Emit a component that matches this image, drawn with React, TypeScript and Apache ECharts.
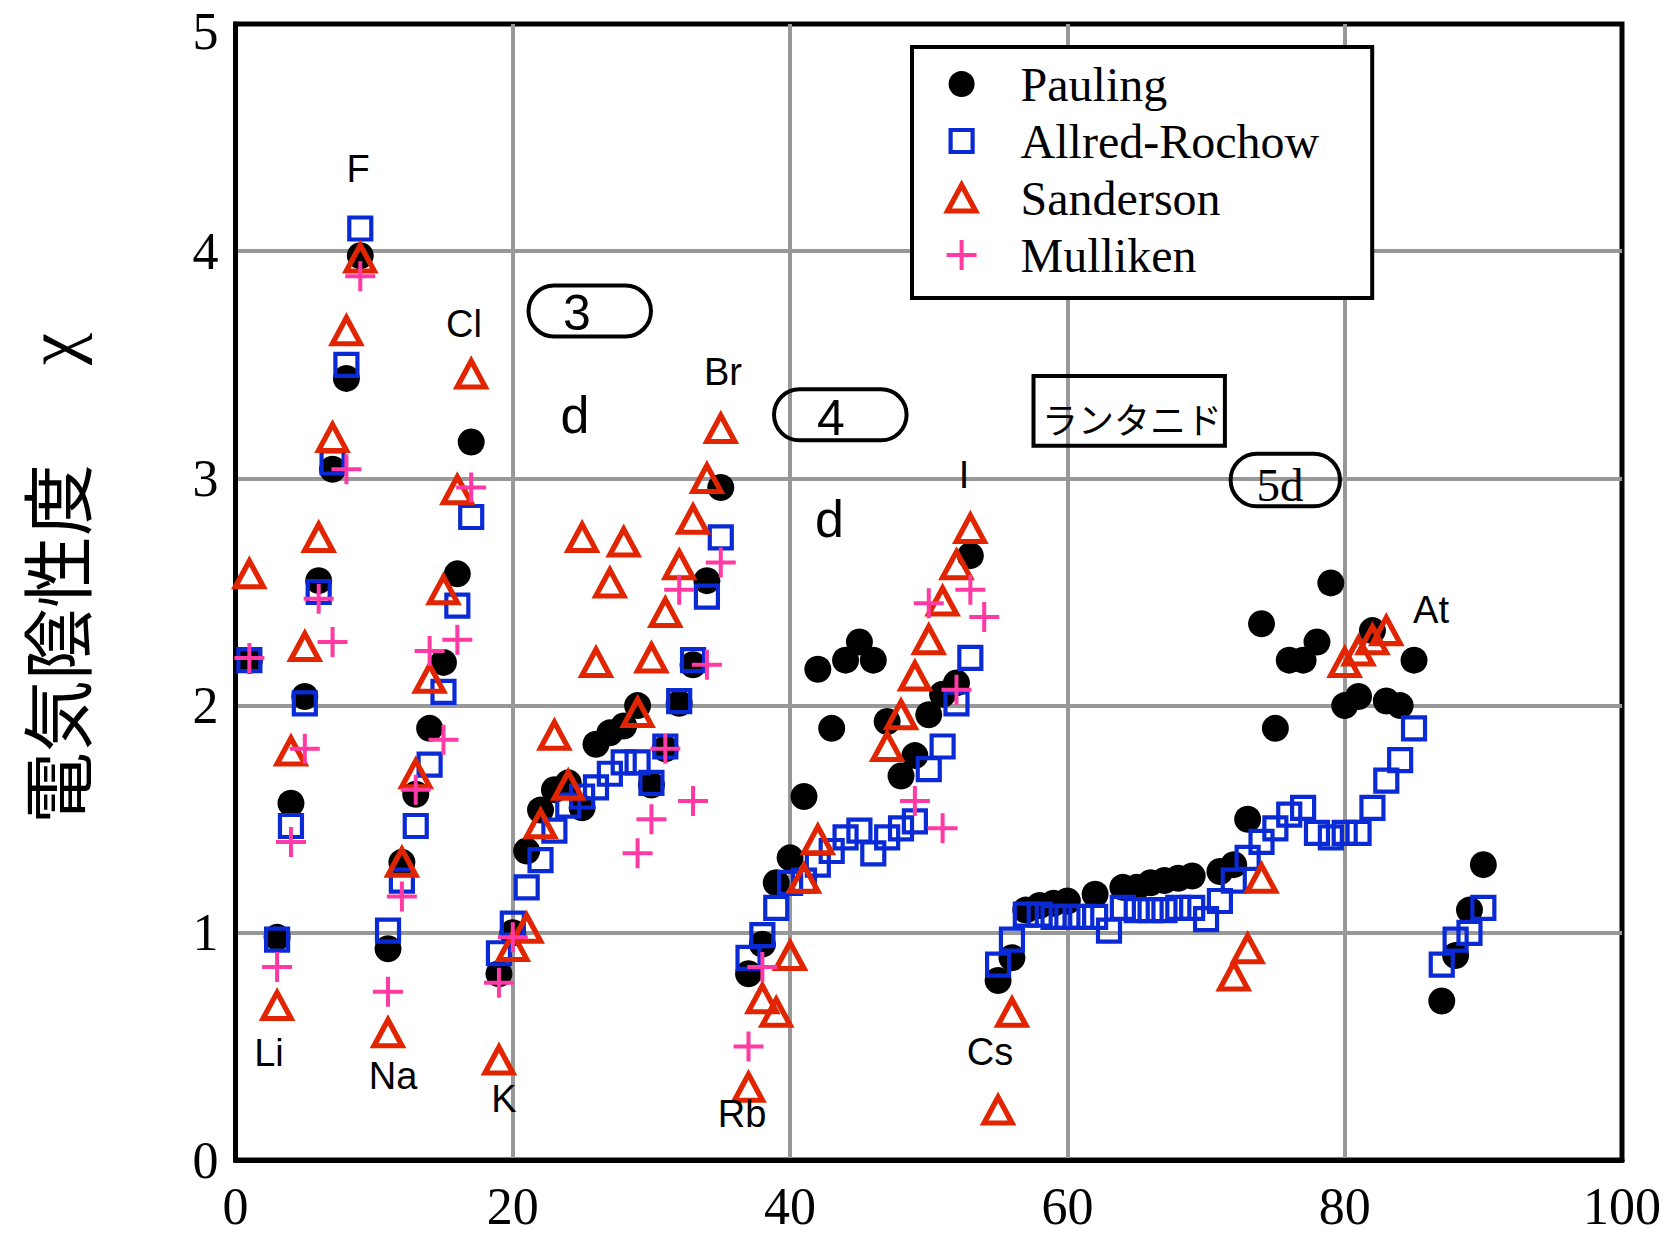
import React, { useEffect, useRef } from "react";
import * as echarts from "echarts";

// ---- data (atomic number Z, electronegativity chi) ----
const paulingZ = [1, 3, 4, 5, 6, 7, 8, 9, 11, 12, 13, 14, 15, 16, 17, 19, 20, 21, 22, 23, 24, 25, 26, 27, 28, 29, 30, 31, 32, 33, 34, 35, 37, 38, 39, 40, 41, 42, 43, 44, 45, 46, 47, 48, 49, 50, 51, 52, 53, 55, 56, 57, 58, 59, 60, 62, 64, 65, 66, 67, 68, 69, 71, 72, 73, 74, 75, 76, 77, 78, 79, 80, 81, 82, 83, 84, 85, 87, 88, 89, 90];
const paulingChi = [2.20, 0.98, 1.57, 2.04, 2.55, 3.04, 3.44, 3.98, 0.93, 1.31, 1.61, 1.90, 2.19, 2.58, 3.16, 0.82, 1.00, 1.36, 1.54, 1.63, 1.66, 1.55, 1.83, 1.88, 1.91, 2.00, 1.65, 1.81, 2.01, 2.18, 2.55, 2.96, 0.82, 0.95, 1.22, 1.33, 1.60, 2.16, 1.90, 2.20, 2.28, 2.20, 1.93, 1.69, 1.78, 1.96, 2.05, 2.10, 2.66, 0.79, 0.89, 1.10, 1.12, 1.13, 1.14, 1.17, 1.20, 1.20, 1.22, 1.23, 1.24, 1.25, 1.27, 1.30, 1.50, 2.36, 1.90, 2.20, 2.20, 2.28, 2.54, 2.00, 2.04, 2.33, 2.02, 2.00, 2.20, 0.70, 0.90, 1.10, 1.30];

const allredZ = [1, 3, 4, 5, 6, 7, 8, 9, 11, 12, 13, 14, 15, 16, 17, 19, 20, 21, 22, 23, 24, 25, 26, 27, 28, 29, 30, 31, 32, 33, 34, 35, 37, 38, 39, 40, 41, 42, 43, 44, 45, 46, 47, 48, 49, 50, 51, 52, 53, 55, 56, 57, 58, 59, 60, 61, 62, 63, 64, 65, 66, 67, 68, 69, 70, 71, 72, 73, 74, 75, 76, 77, 78, 79, 80, 81, 82, 83, 84, 85, 87, 88, 89, 90];
const allredChi = [2.20, 0.97, 1.47, 2.01, 2.50, 3.07, 3.50, 4.10, 1.01, 1.23, 1.47, 1.74, 2.06, 2.44, 2.83, 0.91, 1.04, 1.20, 1.32, 1.45, 1.56, 1.60, 1.64, 1.70, 1.75, 1.75, 1.66, 1.82, 2.02, 2.20, 2.48, 2.74, 0.89, 0.99, 1.11, 1.22, 1.23, 1.30, 1.36, 1.42, 1.45, 1.35, 1.42, 1.46, 1.49, 1.72, 1.82, 2.01, 2.21, 0.86, 0.97, 1.08, 1.08, 1.07, 1.07, 1.07, 1.07, 1.01, 1.11, 1.10, 1.10, 1.10, 1.11, 1.11, 1.06, 1.14, 1.23, 1.33, 1.40, 1.46, 1.52, 1.55, 1.44, 1.42, 1.44, 1.44, 1.55, 1.67, 1.76, 1.90, 0.86, 0.97, 1.00, 1.11];

const sandersonZ = [1, 3, 4, 5, 6, 7, 8, 9, 11, 12, 13, 14, 15, 16, 17, 19, 20, 21, 22, 23, 24, 25, 26, 27, 28, 29, 30, 31, 32, 33, 34, 35, 37, 38, 39, 40, 41, 42, 47, 48, 49, 50, 51, 52, 53, 55, 56, 72, 73, 74, 80, 81, 82, 83];
const sandersonChi = [2.58, 0.68, 1.80, 2.26, 2.74, 3.18, 3.65, 3.97, 0.56, 1.31, 1.70, 2.12, 2.51, 2.95, 3.46, 0.44, 0.94, 1.02, 1.48, 1.87, 1.65, 2.74, 2.19, 2.54, 2.72, 1.97, 2.21, 2.41, 2.62, 2.82, 3.00, 3.22, 0.32, 0.71, 0.65, 0.90, 1.24, 1.41, 1.82, 1.96, 2.13, 2.29, 2.46, 2.62, 2.78, 0.22, 0.65, 0.81, 0.93, 1.24, 2.19, 2.24, 2.29, 2.33];

const mullikenZ = [1, 3, 4, 5, 6, 7, 8, 9, 11, 12, 13, 14, 15, 16, 17, 19, 20, 29, 30, 31, 32, 33, 34, 35, 37, 38, 49, 50, 51, 52, 53, 54];
const mullikenChi = [2.21, 0.85, 1.40, 1.81, 2.47, 2.28, 3.04, 3.89, 0.74, 1.16, 1.63, 2.24, 1.85, 2.29, 2.96, 0.78, 0.98, 1.35, 1.50, 1.81, 2.51, 1.58, 2.18, 2.63, 0.50, 0.85, 1.58, 2.45, 1.46, 2.07, 2.51, 2.39];

const seriesNames = ["Pauling", "Allred-Rochow", "Sanderson", "Mulliken"];
const xTickStep = 20;
const yTickStep = 1;
const yMax = 5;

// ---- styles ----
const BLUE = "#0a2ad6";
const RED = "#e12500";
const PINK = "#ff3aa4";
const GRID_GRAY = "#989898";

const SQUARE = "path://M0,0 L10,0 L10,10 L0,10 Z";
const TRIANGLE = "path://M14,0 L28,26 L0,26 Z";
const PLUS = "path://M0,5 L10,5 M5,0 L5,10";

// legend icons padded to a 40x40 box so that they keep their relative sizes
const ICON_DOT = "path://M0,0 M40,40 M7,20 A13,13 0 1,1 33,20 A13,13 0 1,1 7,20 Z";
const ICON_SQUARE = "path://M0,0 M40,40 M9,9 L31,9 L31,31 L9,31 Z";
const ICON_TRI = "path://M0,0 M40,40 M20,7 L34,33 L6,33 Z";
const ICON_PLUS = "path://M0,0 M40,40 M5,20 L35,20 M20,5 L20,35";

const zip = (zs: number[], vs: number[]) => zs.map((z, i) => [z, vs[i]]);

const sans = "'Liberation Sans', Arial, sans-serif";
const serif = "'Liberation Serif', 'Times New Roman', serif";
const cjk = "'Noto Sans CJK JP', 'Noto Sans CJK SC', sans-serif";

function label(text: string, x: number, y: number, size = 38, font = sans) {
  return {
    type: "text",
    x,
    y,
    z: 50,
    silent: true,
    style: { text, fontSize: size, fontFamily: font, fill: "#000", align: "center", verticalAlign: "middle" },
  };
}
function frame(x: number, y: number, w: number, h: number, r: number) {
  return {
    type: "rect",
    z: 50,
    silent: true,
    shape: { x, y, width: w, height: h, r },
    style: { fill: "none", stroke: "#000", lineWidth: 4 },
  };
}

function buildOption() {
  return {
    animation: false,
    backgroundColor: "#fff",
    grid: {
      left: 235.5,
      top: 24,
      width: 1386.5,
      height: 1136,
      show: true,
      borderColor: "#000",
      borderWidth: 5,
      backgroundColor: "transparent",
    },
    xAxis: {
      type: "value",
      min: 0,
      max: 100,
      interval: xTickStep,
      axisLine: { show: true, lineStyle: { color: "#000", width: 5 } },
      axisTick: { show: false },
      axisLabel: { color: "#000", fontFamily: serif, fontSize: 52, margin: 20 },
      splitLine: { show: true, showMinLine: false, showMaxLine: false, lineStyle: { color: GRID_GRAY, width: 4 } },
    },
    yAxis: {
      type: "value",
      min: 0,
      max: yMax,
      interval: yTickStep,
      axisLine: { show: true, lineStyle: { color: "#000", width: 5 } },
      axisTick: { show: false },
      axisLabel: { color: "#000", fontFamily: serif, fontSize: 52, margin: 17, showMaxLabel: false },
      splitLine: { show: true, showMinLine: false, showMaxLine: false, lineStyle: { color: GRID_GRAY, width: 4 } },
    },
    legend: {
      orient: "vertical",
      left: 912,
      top: 47,
      padding: [13, 53, 19, 27],
      itemWidth: 40,
      itemHeight: 40,
      itemGap: 9,
      borderColor: "#000",
      borderWidth: 4,
      backgroundColor: "#fff",
      selectedMode: false,
      textStyle: { fontFamily: serif, fontSize: 48, color: "#000", padding: [0, 0, 0, 34] },
      data: [
        { name: seriesNames[0], icon: ICON_DOT, itemStyle: { color: "#000", borderWidth: 0 } },
        { name: seriesNames[1], icon: ICON_SQUARE, itemStyle: { color: "transparent", borderColor: BLUE, borderWidth: 4.2 } },
        { name: seriesNames[2], icon: ICON_TRI, itemStyle: { color: "transparent", borderColor: RED, borderWidth: 5.2 } },
        { name: seriesNames[3], icon: ICON_PLUS, itemStyle: { color: "transparent", borderColor: PINK, borderWidth: 4 } },
      ],
    },
    series: [
      {
        name: seriesNames[0],
        type: "scatter",
        data: zip(paulingZ, paulingChi),
        symbol: "circle",
        symbolSize: 27,
        itemStyle: { color: "#000", opacity: 1 },
      },
      {
        name: seriesNames[1],
        type: "scatter",
        data: zip(allredZ, allredChi),
        symbol: SQUARE,
        symbolSize: 22,
        itemStyle: { color: "transparent", borderColor: BLUE, borderWidth: 4.2, opacity: 1 },
      },
      {
        name: seriesNames[2],
        type: "scatter",
        data: zip(sandersonZ, sandersonChi),
        symbol: TRIANGLE,
        symbolSize: [28, 26],
        itemStyle: { color: "transparent", borderColor: RED, borderWidth: 5.2, opacity: 1 },
      },
      {
        name: seriesNames[3],
        type: "scatter",
        data: zip(mullikenZ, mullikenChi),
        symbol: PLUS,
        symbolSize: 30,
        itemStyle: { color: "transparent", borderColor: PINK, borderWidth: 4, opacity: 1 },
      },
    ],
    graphic: [
      // top tick label of the y axis, nudged down so that it is not clipped by the page edge
      {
        type: "text",
        x: 218.5,
        y: 31,
        silent: true,
        style: { text: String(yMax), fontSize: 52, fontFamily: serif, fill: "#000", align: "right", verticalAlign: "middle" },
      },
      // axis title
      {
        type: "text",
        x: 53,
        y: 644,
        rotation: Math.PI / 2,
        silent: true,
        style: { text: "電気陰性度", fontSize: 72, fontFamily: cjk, fill: "#000", align: "center", verticalAlign: "middle" },
      },
      {
        type: "text",
        x: 53,
        y: 349,
        rotation: Math.PI / 2,
        silent: true,
        style: { text: "χ", fontSize: 72, fontFamily: serif, fill: "#000", align: "center", verticalAlign: "middle" },
      },
      // element labels
      label("F", 358, 169),
      label("Cl", 464, 324),
      label("Br", 723, 372),
      label("I", 964, 475),
      label("At", 1431, 610),
      label("Li", 269, 1053),
      label("Na", 393, 1076),
      label("K", 504, 1099),
      label("Rb", 742, 1114),
      label("Cs", 990, 1052),
      // period annotations
      frame(528.5, 285.5, 122.5, 51, 25.5),
      label("3", 577, 313, 50),
      label("d", 575, 415, 52),
      frame(774, 389.3, 132.6, 51, 25.5),
      label("4", 831, 418, 50),
      label("d", 829.5, 519, 52),
      frame(1033.5, 376, 191.4, 69.7, 0),
      label("ランタニド", 1132, 418, 36, cjk),
      frame(1230.6, 453.7, 109.4, 52.6, 26.3),
      label("5d", 1280, 485, 47, serif),
    ],
  };
}

export default function App() {
  const ref = useRef<HTMLDivElement>(null);
  useEffect(() => {
    if (!ref.current) return;
    const chart = echarts.init(ref.current, undefined, { renderer: "svg" });
    chart.setOption(buildOption() as any);
    return () => {
      chart.dispose();
    };
  }, []);
  return (
    <div
      ref={ref}
      style={{ position: "absolute", left: 0, top: 0, width: 1677, height: 1236, background: "#fff" }}
    />
  );
}
